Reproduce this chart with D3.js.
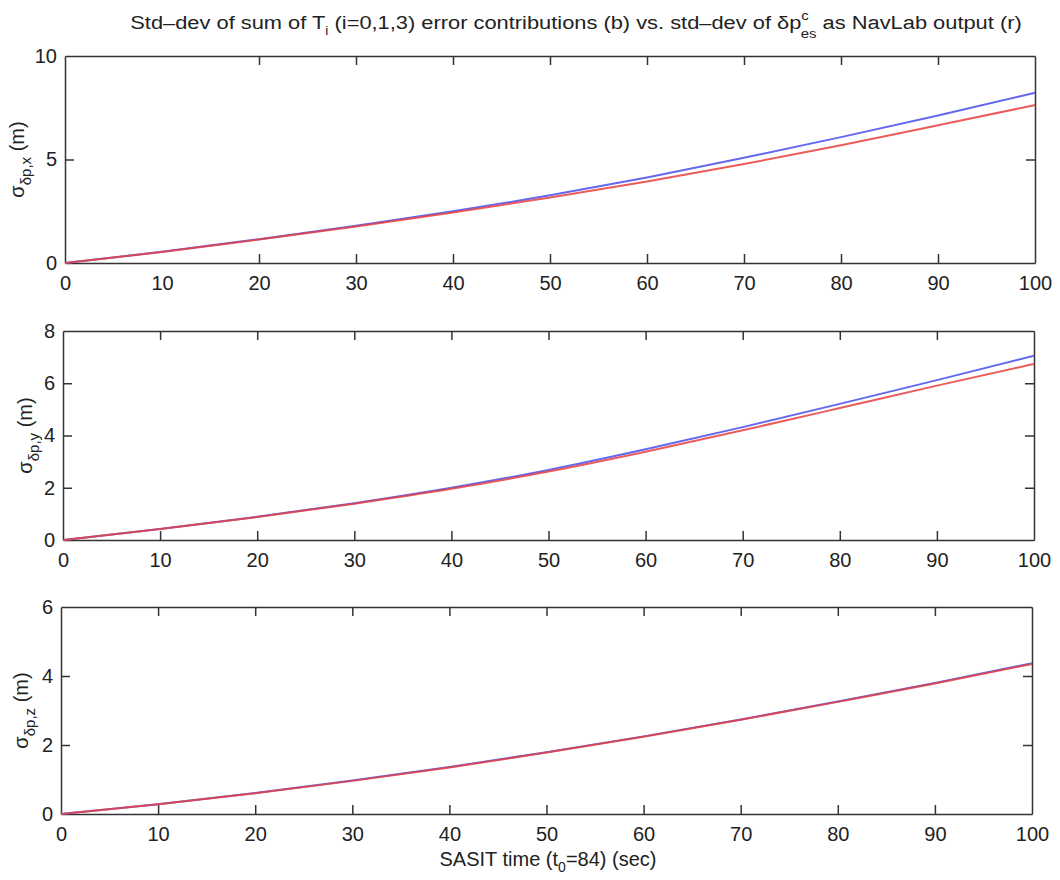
<!DOCTYPE html>
<meta charset="utf-8">
<style>
body { margin: 0; background: #fff; }
svg text { font-family: "Liberation Sans", Arial, sans-serif; fill: #222; }
.axis path, .axis line { stroke: #333; stroke-width: 1.5; fill: none; }
.tick text { font-size: 20px; }
</style>
<body>
<script src="https://d3js.org/d3.v7.min.js"></script>
<script>
// time in seconds
var time = [0, 10, 20, 30, 40, 50, 60, 70, 80, 90, 100];

// std-dev of position error, x
var xBlue = [0, 0.54, 1.15, 1.80, 2.50, 3.27, 4.13, 5.08, 6.08, 7.13, 8.22];
var xRed  = [0, 0.53, 1.13, 1.76, 2.44, 3.16, 3.94, 4.78, 5.69, 6.65, 7.63];
// y
var yBlue = [0, 0.42, 0.89, 1.41, 2.00, 2.68, 3.47, 4.32, 5.21, 6.12, 7.05];
var yRed  = [0, 0.42, 0.88, 1.39, 1.96, 2.62, 3.38, 4.20, 5.05, 5.91, 6.74];
// z
var zBlue = [0, 0.28, 0.61, 0.97, 1.36, 1.79, 2.25, 2.74, 3.26, 3.80, 4.37];
var zRed  = [0, 0.28, 0.60, 0.96, 1.35, 1.78, 2.24, 2.73, 3.25, 3.78, 4.35];

var xTicks = [0, 10, 20, 30, 40, 50, 60, 70, 80, 90, 100];

var panels = [
  {blue: xBlue, red: xRed, ymax: 10, yticks: [0, 5, 10], sub: "δp,x",
   left: 65, right: 1035, top: 56, bottom: 263, labX: 24},
  {blue: yBlue, red: yRed, ymax: 8, yticks: [0, 2, 4, 6, 8], sub: "δp,y",
   left: 63, right: 1034, top: 331, bottom: 540, labX: 32},
  {blue: zBlue, red: zRed, ymax: 6, yticks: [0, 2, 4, 6], sub: "δp,z",
   left: 61, right: 1032, top: 607, bottom: 814, labX: 28}
];

var svg = d3.select("body").append("svg")
    .attr("width", 1060)
    .attr("height", 880);

// title
var title = svg.append("text")
    .attr("transform", "translate(576,29) scale(1.15,1)")
    .attr("text-anchor", "middle")
    .style("font-size", "19px");
title.append("tspan").text("Std\u2013dev of sum of T");
title.append("tspan").attr("dy", 6).style("font-size", "12px").text("i");
title.append("tspan").attr("dy", -6).text(" (i=0,1,3) error contributions (b) vs. std\u2013dev of δp");
title.append("tspan").attr("dy", -9).style("font-size", "13px").text("c");
title.append("tspan").attr("dx", -7).attr("dy", 18).style("font-size", "13px").text("es");
title.append("tspan").attr("dy", -9).text(" as NavLab output (r)");

panels.forEach(function(p) {
  var x = d3.scaleLinear().domain([0, 100]).range([p.left, p.right]);
  var y = d3.scaleLinear().domain([0, p.ymax]).range([p.bottom, p.top]);

  var g = svg.append("g");

  // box with inward ticks on all sides
  g.append("g").attr("class", "axis")
      .attr("transform", "translate(0," + p.bottom + ")")
      .call(d3.axisBottom(x).tickValues(xTicks).tickSizeInner(-9).tickSizeOuter(0).tickPadding(20))
      .selectAll("text").attr("dy", "0.35em");
  g.append("g").attr("class", "axis")
      .attr("transform", "translate(0," + p.top + ")")
      .call(d3.axisTop(x).tickValues(xTicks).tickSizeInner(-9).tickSizeOuter(0).tickFormat(""));
  g.append("g").attr("class", "axis")
      .attr("transform", "translate(" + p.left + ",0)")
      .call(d3.axisLeft(y).tickValues(p.yticks).tickFormat(d3.format("d"))
        .tickSizeInner(-9).tickSizeOuter(0).tickPadding(8));
  g.append("g").attr("class", "axis")
      .attr("transform", "translate(" + p.right + ",0)")
      .call(d3.axisRight(y).tickValues(p.yticks).tickSizeInner(-9).tickSizeOuter(0).tickFormat(""));

  // hide ticks at the ends so the box corners stay clean
  g.selectAll(".tick line").filter(function(d) {
    return d === 0 || d === 100 || d === p.ymax;
  }).remove();

  var line = d3.line()
      .x(function(d, i) { return x(time[i]); })
      .y(function(d) { return y(d); })
      .curve(d3.curveMonotoneX);

  g.append("path").datum(p.blue)
      .attr("d", line)
      .attr("fill", "none")
      .attr("stroke", "#6468ee")
      .attr("stroke-width", 2);
  g.append("path").datum(p.red)
      .attr("d", line)
      .attr("fill", "none")
      .attr("stroke", "#e8403e")
      .attr("stroke-opacity", 0.85)
      .attr("stroke-width", 2);

  // y label
  var cy = (p.top + p.bottom) / 2;
  var lab = g.append("text")
      .attr("transform", "translate(" + p.labX + "," + cy + ") rotate(-90)")
      .attr("text-anchor", "middle")
      .style("font-size", "20px");
  lab.append("tspan").text("σ");
  lab.append("tspan").attr("dy", 7).style("font-size", "15px").text(p.sub);
  lab.append("tspan").attr("dy", -7).text(" (m)");
});

// x label
var xl = svg.append("text")
    .attr("x", 548)
    .attr("y", 866)
    .attr("text-anchor", "middle")
    .style("font-size", "20px");
xl.append("tspan").text("SASIT time (t");
xl.append("tspan").attr("dy", 6).style("font-size", "14px").text("0");
xl.append("tspan").attr("dy", -6).text("=84) (sec)");
</script>
</body>
